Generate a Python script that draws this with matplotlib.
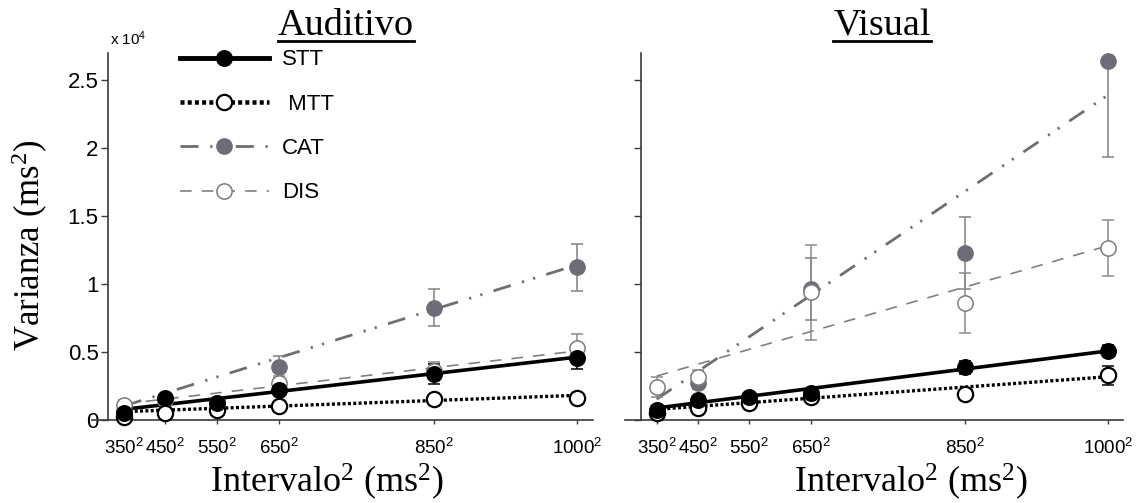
import numpy as np
import matplotlib
matplotlib.use('Agg')
import matplotlib.pyplot as plt
from matplotlib.lines import Line2D

plt.rcParams['mathtext.default'] = 'regular'
plt.rcParams['font.family'] = ['Liberation Sans', 'DejaVu Sans']

# ---------------- data (variance in units of 10^4 ms^2) ----------------
intervals_ms = [350, 450, 550, 650, 850, 1000]
xtick_labels = ['350$^2$', '450$^2$', '550$^2$', '650$^2$', '850$^2$', '1000$^2$']
ytick_vals = [0, 0.5, 1, 1.5, 2, 2.5]
ytick_labels = ['0', '0.5', '1', '1.5', '2', '2.5']
series_names = ['STT', 'MTT', 'CAT', 'DIS']
legend_labels = ['STT', ' MTT', 'CAT', 'DIS']
panel_titles = ['Auditivo', 'Visual']

# Auditivo
aud_stt = [0.05, 0.155, 0.12, 0.215, 0.335, 0.45]
aud_stt_err = [0.02, 0.02, 0.02, 0.03, 0.075, 0.08]
aud_mtt = [0.02, 0.045, 0.07, 0.10, 0.148, 0.158]
aud_mtt_err = [0.01, 0.01, 0.015, 0.015, 0.02, 0.02]
aud_cat = [0.06, 0.15, 0.12, 0.385, 0.825, 1.12]
aud_cat_err = [0.02, 0.03, 0.03, 0.08, 0.135, 0.17]
aud_dis = [0.11, 0.14, 0.12, 0.27, 0.36, 0.53]
aud_dis_err = [0.03, 0.03, 0.03, 0.05, 0.06, 0.10]
# fitted lines: value at 350^2 and at 1000^2
aud_fit_stt = [0.075, 0.46]
aud_fit_mtt = [0.058, 0.178]
aud_fit_cat = [0.10, 1.14]
aud_fit_dis = [0.115, 0.505]

# Visual
vis_stt = [0.07, 0.143, 0.163, 0.193, 0.384, 0.506]
vis_stt_err = [0.02, 0.02, 0.02, 0.03, 0.05, 0.04]
vis_mtt = [0.046, 0.082, 0.124, 0.168, 0.188, 0.327]
vis_mtt_err = [0.015, 0.015, 0.02, 0.02, 0.02, 0.07]
vis_cat = [0.07, 0.266, 0.16, 0.96, 1.229, 2.643]
vis_cat_err = [0.02, 0.04, 0.03, 0.23, 0.265, 0.71]
vis_dis = [0.241, 0.315, 0.14, 0.937, 0.859, 1.266]
vis_dis_err = [0.073, 0.05, 0.03, 0.35, 0.22, 0.206]
vis_fit_stt = [0.085, 0.505]
vis_fit_mtt = [0.075, 0.315]
vis_fit_cat = [0.15, 2.39]
vis_fit_dis = [0.32, 1.28]

# ---------------- styles ----------------
CAT_C = '#6d6d78'
DIS_C = '#7c7c7c'
styles = {
    'STT': dict(color='black', ls='-', lw=2.6, mfc='black', mec='black', mew=1.2, ecolor='black'),
    'MTT': dict(color='black', ls=(0, (0.9, 0.7)), lw=2.4, mfc='white', mec='black', mew=1.6, ecolor='black'),
    'CAT': dict(color='#6f6f6f', ls=(0, (6.5, 4.2, 0.8, 3.4, 0.8, 4.2)), lw=2.0, mfc=CAT_C, mec=CAT_C, mew=1.0, ecolor='#808080'),
    'DIS': dict(color='#808080', ls=(0, (7, 6)), lw=1.2, mfc='white', mec=DIS_C, mew=1.1, ecolor='#8a8a8a'),
}
zline = {'CAT': 2, 'DIS': 2.1, 'MTT': 3, 'STT': 3.1}
zmark = {'CAT': 5, 'DIS': 6, 'MTT': 7, 'STT': 8}

W, H = 1137, 503
fig = plt.figure(figsize=(W / 100, H / 100), dpi=100)

def fx(px):
    return px / W

def fy(py):
    return 1 - py / H

ax_l = fig.add_axes([fx(108.3), fy(419.5), fx(593 - 108.3), (419.5 - 53) / H])
ax_r = fig.add_axes([fx(641), fy(419.5), fx(1123.3 - 641), (419.5 - 53) / H])

x = np.array(intervals_ms, dtype=float) ** 2
x_fit = np.array([intervals_ms[0], intervals_ms[-1]], dtype=float) ** 2

panels = [
    (ax_l, {'STT': (aud_stt, aud_stt_err, aud_fit_stt), 'MTT': (aud_mtt, aud_mtt_err, aud_fit_mtt),
            'CAT': (aud_cat, aud_cat_err, aud_fit_cat), 'DIS': (aud_dis, aud_dis_err, aud_fit_dis)}),
    (ax_r, {'STT': (vis_stt, vis_stt_err, vis_fit_stt), 'MTT': (vis_mtt, vis_mtt_err, vis_fit_mtt),
            'CAT': (vis_cat, vis_cat_err, vis_fit_cat), 'DIS': (vis_dis, vis_dis_err, vis_fit_dis)}),
]

for ax, data in panels:
    for name in series_names:
        vals, errs, fit = data[name]
        st = styles[name]
        ax.plot(x_fit, fit, color=st['color'], ls=st['ls'], lw=st['lw'], zorder=zline[name],
                solid_capstyle='butt', dash_capstyle='butt')
        ax.errorbar(x, vals, yerr=errs, fmt='none', ecolor=st['ecolor'], elinewidth=1.1,
                    capsize=4, capthick=1.1, zorder=4)
        ax.plot(x, vals, ls='none', marker='o', ms=11, mfc=st['mfc'], mec=st['mec'], mew=st['mew'],
                zorder=zmark[name], clip_on=False)
    ax.set_xlim(0.92e5, 1.03e6)
    ax.set_ylim(0, 2.7)
    for s in ['top', 'right']:
        ax.spines[s].set_visible(False)
    for s in ['left', 'bottom']:
        ax.spines[s].set_color('#3a3a3a')
        ax.spines[s].set_linewidth(1.2)
    ax.spines['bottom'].set_bounds(0.6e5, 1.03e6)
    ax.set_xticks(x)
    ax.set_xticklabels(xtick_labels, fontsize=13.5)
    ax.set_yticks(ytick_vals)
    ax.tick_params(axis='x', direction='out', length=3, width=1, pad=10, colors='#3a3a3a', labelcolor='black')
    ax.tick_params(axis='y', direction='out', length=5, width=1, pad=2, colors='#3a3a3a', labelcolor='black')

ax_l.set_yticklabels(ytick_labels, fontsize=16)
ax_r.set_yticklabels([])

# legend
handles = []
for name in series_names:
    st = styles[name]
    lw = st['lw'] * (1.35 if name in ('STT', 'MTT') else 1.0)
    handles.append(Line2D([], [], color=st['color'], ls=st['ls'], lw=lw, marker='o', ms=11,
                          mfc=st['mfc'], mec=st['mec'], mew=st['mew']))
ax_l.legend(handles, legend_labels, loc='upper left', bbox_to_anchor=(0.148, 1.01),
            frameon=False, fontsize=16, handlelength=4.0, handletextpad=0.6,
            labelspacing=1.05, borderpad=0, borderaxespad=0, numpoints=1)

# texts
serif = ['Liberation Serif', 'DejaVu Serif']
fig.text(fx(110), fy(45), 'x 10$^4$', fontsize=11, ha='left', va='baseline')
fig.text(fx(30), fy(245), 'Varianza (ms$^2$)', family=serif, fontsize=25, rotation=90,
         ha='center', va='center')
fig.text(fx(327), fy(482), 'Intervalo$^2$ (ms$^2$)', family=serif, fontsize=26, ha='center', va='center')
fig.text(fx(911), fy(482), 'Intervalo$^2$ (ms$^2$)', family=serif, fontsize=26, ha='center', va='center')

titles = []
for title, cx in zip(panel_titles, [346, 882]):
    titles.append(fig.text(fx(cx), fy(35), title, family=serif, fontsize=27.5, ha='center', va='baseline'))

fig.canvas.draw()
renderer = fig.canvas.get_renderer()
for t in titles:
    bb = t.get_window_extent(renderer)
    fig.add_artist(Line2D([bb.x0 / W, bb.x1 / W], [fy(41), fy(41)], color='black', lw=2.0,
                          transform=fig.transFigure))

fig.savefig('out.png', dpi=100)
